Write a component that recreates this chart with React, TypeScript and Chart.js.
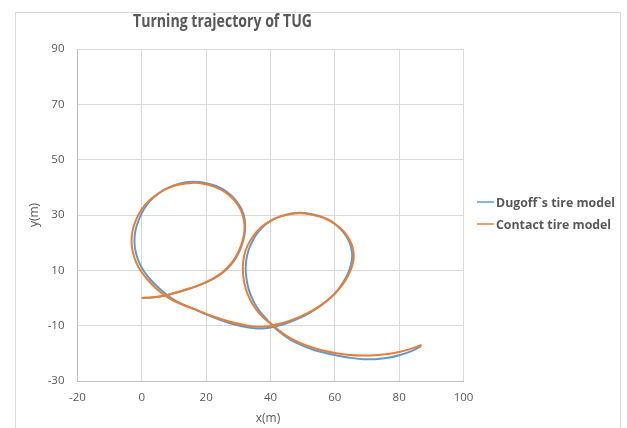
import { useEffect, useRef } from "react";
import { Chart, registerables } from "chart.js";

Chart.register(...registerables);

const titleText = "Turning trajectory of TUG";
const xAxisTitle = "x(m)";
const yAxisTitle = "y(m)";
const seriesNames = ["Dugoff`s tire model", "Contact tire model"];
const seriesColors = ["#5B9BD5", "#ED7D31"];

const xTicks = [-20, 0, 20, 40, 60, 80, 100];
const yTicks = [-30, -10, 10, 30, 50, 70, 90];

const dugoffX = [0, 3, 6.6, 10, 13.5, 17, 20.3, 23.5, 26.3, 28.6, 30.3, 31.5, 32.1, 32, 31, 29.1, 26.4, 23.1, 19.4, 15.6, 11.9, 8.4, 5.3, 2.6, 0.5, -1.0, -2.0, -2.3, -1.9, -0.9, 0.7, 2.8, 5.3, 7.9, 10.7, 13.9, 17.4, 22, 27.4, 31.5, 35.7, 38.5, 41, 44.5, 48.1, 51.4, 54.4, 57.3, 59.9, 62.1, 63.9, 65, 65.4, 65.1, 64.2, 62.5, 60.3, 57.9, 55.3, 52.2, 49.1, 46.1, 43.1, 40.1, 37.5, 35.4, 33.8, 32.7, 32.3, 32.5, 33.2, 34.5, 36.3, 38.6, 41, 43.6, 46.4, 49.6, 53.1, 56.8, 60.6, 64.6, 68.6, 72.6, 76.6, 80.3, 83.8, 86.8];
const dugoffY = [0, 0.2, 0.7, 1.7, 2.9, 4.2, 5.8, 7.8, 10.3, 13.3, 16.8, 20.6, 24.5, 28.4, 32.1, 35.5, 38.4, 40.5, 41.7, 42, 41.4, 40.0, 37.9, 35.1, 31.8, 28.1, 24.3, 20.4, 16.6, 13.0, 9.6, 6.5, 3.6, 1.0, -1.1, -2.9, -4.6, -6.9, -9.1, -10.3, -11, -10.9, -10.4, -9.3, -7.7, -5.9, -3.8, -1.3, 1.5, 4.8, 8.4, 12, 15, 18, 21, 24, 26.5, 28.4, 29.6, 30.5, 30.8, 30.5, 29.5, 27.9, 25.6, 22.6, 19.1, 15.3, 11.3, 7.3, 3.2, -0.7, -4.3, -7.4, -10.4, -13, -15.2, -17, -18.6, -19.8, -20.8, -21.6, -22.1, -22.1, -21.6, -20.6, -19.2, -17.5];

const contactX = [0, 3, 6.6, 10, 13.5, 17, 20.3, 23.4, 26.1, 28.4, 30.1, 31.3, 31.9, 31.7, 30.7, 28.8, 26.1, 22.8, 19.2, 15.5, 11.8, 8.2, 4.9, 2.0, -0.3, -1.9, -2.9, -3.2, -2.8, -1.8, -0.2, 1.9, 4.3, 7.0, 9.9, 13.3, 17, 22, 27.4, 31.5, 35.7, 38.5, 40.9, 44.5, 48.1, 51.5, 54.5, 57.5, 60.2, 62.5, 64.3, 65.5, 65.9, 65.6, 64.6, 62.8, 60.5, 58, 55.3, 52.2, 49.1, 46, 42.9, 39.8, 37, 34.7, 32.9, 31.8, 31.4, 31.6, 32.4, 33.8, 35.7, 38.1, 40.9, 43.5, 46.3, 49.5, 53, 56.7, 60.5, 64.5, 68.5, 72.5, 76.5, 80.3, 83.8, 87];
const contactY = [0, 0.2, 0.8, 1.8, 3.0, 4.3, 5.9, 7.9, 10.4, 13.4, 16.9, 20.6, 24.5, 28.3, 32, 35.3, 38.1, 40.1, 41.3, 41.6, 41.0, 39.7, 37.6, 34.9, 31.6, 28.0, 24.2, 20.4, 16.6, 13.0, 9.6, 6.5, 3.6, 1.0, -1.0, -2.7, -4.3, -6.6, -8.6, -9.7, -10.4, -10.3, -9.8, -8.8, -7.3, -5.5, -3.5, -1.0, 1.8, 5.0, 8.5, 12.0, 15.0, 18.0, 21.0, 24.0, 26.4, 28.2, 29.4, 30.3, 30.6, 30.3, 29.4, 27.8, 25.5, 22.5, 19, 15.2, 11.3, 7.2, 3.0, -0.9, -4.4, -7.4, -10, -12.5, -14.6, -16.4, -17.9, -19.1, -20.0, -20.6, -20.8, -20.7, -20.2, -19.4, -18.3, -17];

const toPoints = (xs: number[], ys: number[]) => xs.map((x, i) => ({ x, y: ys[i] }));

const TEXT = "#595959";
const FAM = "'Open Sans', sans-serif";

function drawFitted(ctx: CanvasRenderingContext2D, text: string, font: string, x: number, y: number, target: number, align: "left" | "center") {
  ctx.font = font;
  const w = ctx.measureText(text).width;
  const sx = target / w;
  ctx.save();
  ctx.translate(x, y);
  ctx.scale(sx, 1);
  ctx.textAlign = align;
  ctx.fillText(text, 0, 0);
  ctx.restore();
}

const decorPlugin = {
  id: "decor",
  afterDraw(chart: any) {
    const ctx: CanvasRenderingContext2D = chart.ctx;
    ctx.save();
    ctx.strokeStyle = "#d9d9d9";
    ctx.lineWidth = 1;
    ctx.strokeRect(15.5, 12.5, 605, 440);

    ctx.fillStyle = TEXT;
    ctx.textBaseline = "middle";
    drawFitted(ctx, titleText, `bold 18px ${FAM}`, 222.5, 22, 179, "center");

    ctx.font = `12px ${FAM}`;
    ctx.textAlign = "center";
    ctx.fillText(xAxisTitle, 268, 419);
    ctx.save();
    ctx.translate(35, 215);
    ctx.rotate(-Math.PI / 2);
    ctx.fillText(yAxisTitle, 0, 0);
    ctx.restore();

    const rows = [202, 224];
    ctx.font = `bold 13px ${FAM}`;
    const sx = 119 / ctx.measureText(seriesNames[0]).width;
    seriesNames.forEach((name, i) => {
      ctx.strokeStyle = seriesColors[i];
      ctx.lineWidth = 1.5;
      ctx.beginPath();
      ctx.moveTo(477, rows[i]);
      ctx.lineTo(494, rows[i]);
      ctx.stroke();
      ctx.fillStyle = TEXT;
      ctx.save();
      ctx.translate(496, rows[i] + 1);
      ctx.scale(sx, 1);
      ctx.textAlign = "left";
      ctx.fillText(name, 0, 0);
      ctx.restore();
    });
    ctx.restore();
  },
};

export default function App() {
  const ref = useRef<HTMLCanvasElement | null>(null);
  useEffect(() => {
    if (!ref.current) return;
    const chart = new Chart(ref.current, {
      type: "scatter",
      data: {
        datasets: [
          {
            label: seriesNames[1],
            data: toPoints(contactX, contactY),
            showLine: true,
            borderColor: seriesColors[1],
            backgroundColor: seriesColors[1],
            borderWidth: 2,
            pointRadius: 0,
            tension: 0.4,
            order: 0,
          },
          {
            label: seriesNames[0],
            data: toPoints(dugoffX, dugoffY),
            showLine: true,
            borderColor: seriesColors[0],
            backgroundColor: seriesColors[0],
            borderWidth: 2,
            pointRadius: 0,
            tension: 0.4,
            order: 1,
          },
        ],
      },
      options: {
        responsive: false,
        animation: false,
        devicePixelRatio: 1,
        layout: { padding: { left: 0, top: 49, right: 163.5, bottom: 0 } },
        plugins: {
          legend: { display: false },
          title: { display: false },
          tooltip: { enabled: false },
        },
        scales: {
          x: {
            type: "linear",
            min: -20,
            max: 100,
            afterBuildTicks: (s: any) => {
              s.ticks = xTicks.map((v) => ({ value: v }));
            },
            afterFit: (s: any) => {
              s.height = 47;
            },
            grid: { color: "#d9d9d9", drawTicks: false },
            border: { display: true, color: "#bfbfbf" },
            ticks: {
              color: TEXT,
              padding: 10,
              font: { family: FAM, size: 11.5 },
            },
          },
          y: {
            type: "linear",
            min: -30,
            max: 90,
            afterBuildTicks: (s: any) => {
              s.ticks = yTicks.map((v) => ({ value: v }));
            },
            afterFit: (s: any) => {
              s.width = 77.5;
            },
            grid: { color: "#d9d9d9", drawTicks: false },
            border: { display: true, color: "#bfbfbf" },
            ticks: {
              color: TEXT,
              padding: 13,
              font: { family: FAM, size: 11.5 },
            },
          },
        },
      },
      plugins: [decorPlugin],
    });
    return () => chart.destroy();
  }, []);
  return (
    <div style={{ position: "fixed", left: 0, top: 0, width: 627, height: 428, background: "#fff" }}>
      <canvas ref={ref} width={627} height={428} />
    </div>
  );
}
